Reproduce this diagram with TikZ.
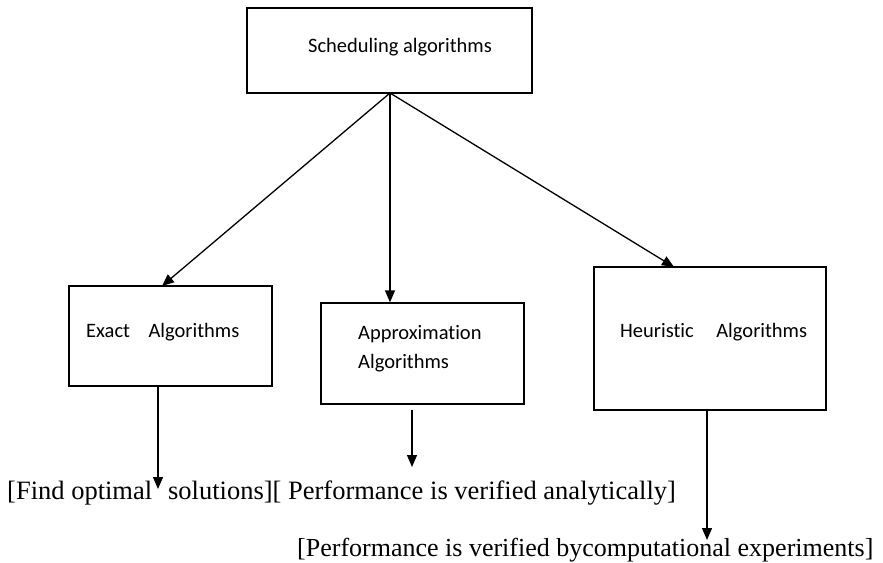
\documentclass[tikz,border=0pt]{standalone}
\usepackage{fontspec}
\setmainfont{Liberation Serif}
\newfontfamily\boxfont[RawFeature={-liga;-clig}]{Carlito}
\usetikzlibrary{arrows.meta}
\begin{document}
\begin{tikzpicture}[x=1pt,y=-1pt,
  box/.style={draw,line width=1.3pt,inner sep=0pt},
  lbl/.style={font=\boxfont\fontsize{20.5}{24}\selectfont,inner sep=0pt,anchor=west},
  note/.style={font=\fontsize{26.5}{30}\selectfont,inner sep=0pt,anchor=west},
  arr/.style={line width=1.3pt,-{Triangle[length=12pt,width=10pt]}}]
\useasboundingbox (0,0) rectangle (883,562);
% boxes
\node[box,minimum width=285pt,minimum height=85pt] (top) at (389.5,50.5) {};
\node[box,minimum width=203pt,minimum height=100pt] (exact) at (170.5,336) {};
\node[box,minimum width=203pt,minimum height=101pt] (approx) at (422.5,353.5) {};
\node[box,minimum width=232pt,minimum height=143pt] (heur) at (710,338.5) {};
% labels
\node[lbl,anchor=center] (tl) at (400,47) {Scheduling algorithms};
\node[lbl] (el) at (86,332) {Exact\hspace{0.9em}Algorithms};
\node[lbl] (al1) at (358,334) {Approximation};
\node[lbl] (al2) at (358,363) {Algorithms};
\node[lbl] (hl) at (620,332) {Heuristic\hspace{1.1em}Algorithms};
% notes
\node[note] (n1) at (7,493) {[Find optimal\hspace{0.35em} solutions][ Performance is verified analytically]};
\node[note,font=\fontsize{26}{30}\selectfont] (n2) at (297,550) {[Performance is verified bycomputational experiments]};
% connectors
\coordinate (o) at (390,93);
\coordinate (et) at (162,286);
\coordinate (ht) at (674,267);
\draw[arr] (o) -- (et);
\draw[arr] (o) -- (approx.north -| o);
\draw[arr] (o) -- (ht);
\coordinate (e0) at (158,386);
\coordinate (e1) at (158,489);
\coordinate (a0) at (412,410);
\coordinate (a1) at (412,467);
\coordinate (h0) at (707,410);
\coordinate (h1) at (707,540);
\draw[arr] (e0) -- (e1);
\draw[arr] (a0) -- (a1);
\draw[arr] (h0) -- (h1);
\end{tikzpicture}
\end{document}
